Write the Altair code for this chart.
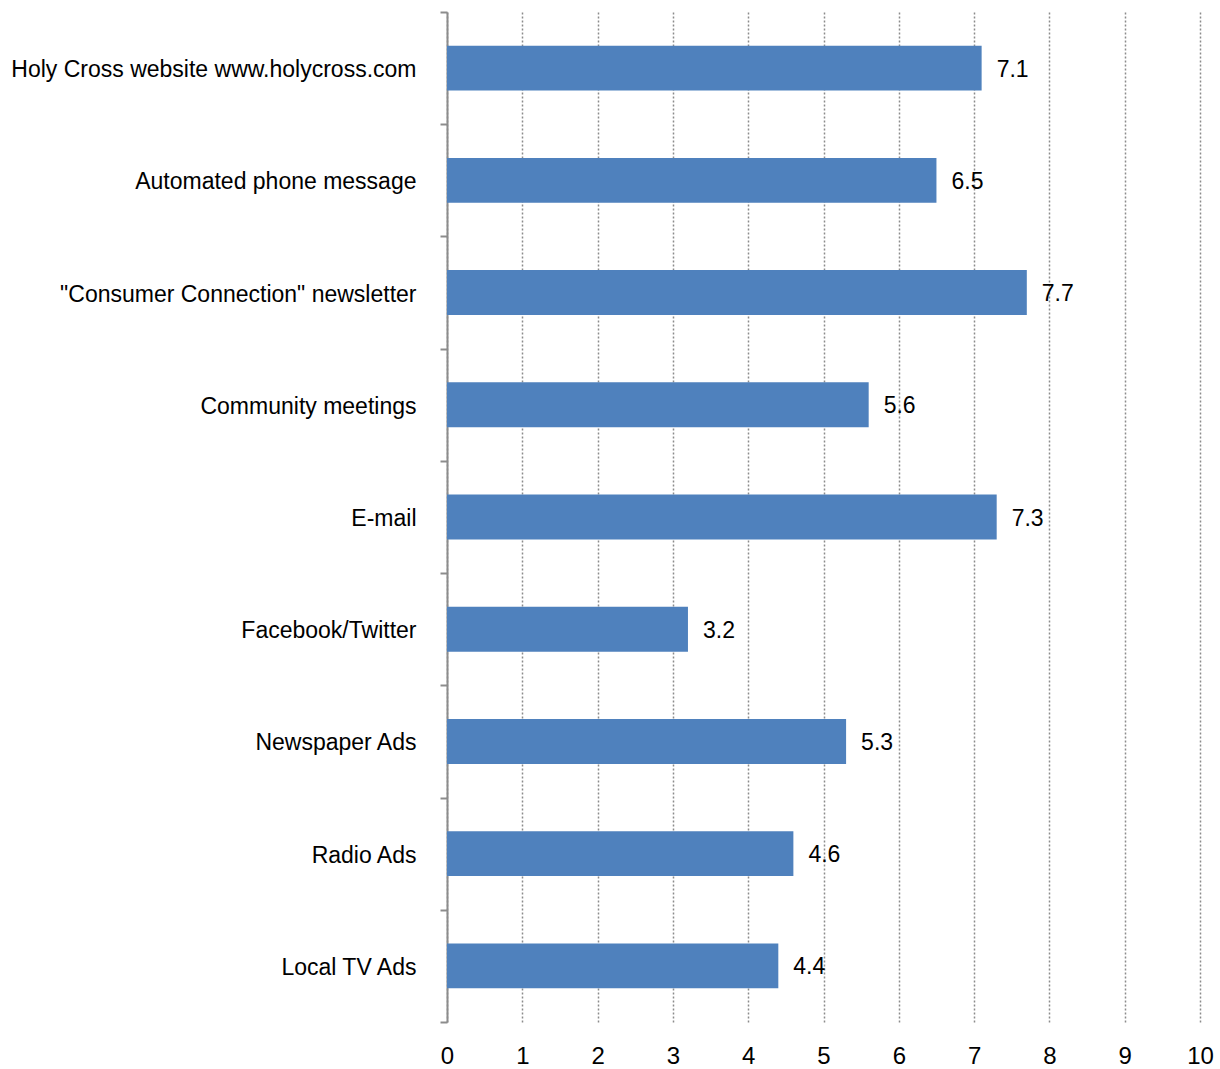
import altair as alt
import pandas as pd

categories = [
    "Holy Cross website www.holycross.com",
    "Automated phone message",
    "\"Consumer Connection\" newsletter",
    "Community meetings",
    "E-mail",
    "Facebook/Twitter",
    "Newspaper Ads",
    "Radio Ads",
    "Local TV Ads",
]
values = [7.1, 6.5, 7.7, 5.6, 7.3, 3.2, 5.3, 4.6, 4.4]
x_ticks = list(range(0, 11))

df = pd.DataFrame({"category": categories, "value": values})
df["label"] = df["value"].map(lambda v: f"{v:.1f}")

FONT = "Liberation Sans, Arial, sans-serif"

y_enc = alt.Y(
    "category:N",
    sort=categories,
    scale=alt.Scale(paddingInner=0, paddingOuter=0),
    axis=alt.Axis(
        title=None,
        tickBand="extent",
        domainColor="#8c8c8c",
        domainWidth=2,
        tickColor="#8c8c8c",
        tickWidth=2,
        tickSize=7,
        labelFont=FONT,
        labelFontSize=23,
        labelColor="#000000",
        labelPadding=24,
        labelOffset=1.5,
        labelLimit=0,
        grid=False,
    ),
)

x_enc = alt.X(
    "value:Q",
    scale=alt.Scale(domain=[0, 10], nice=False),
    axis=alt.Axis(
        title=None,
        values=x_ticks,
        format="d",
        domain=False,
        ticks=False,
        grid=True,
        gridColor="#8c8c8c",
        gridDash=[2, 2],
        gridWidth=1.5,
        labelFont=FONT,
        labelFontSize=24,
        labelColor="#000000",
        labelPadding=22,
        labelFlush=False,
    ),
)

bars = alt.Chart(df).mark_bar(color="#4F81BD", height={"band": 0.4}).encode(x=x_enc, y=y_enc)

texts = alt.Chart(df).mark_text(
    align="left", baseline="middle", dx=15, dy=1.5, font=FONT, fontSize=23, color="#000000"
).encode(x="value:Q", y=alt.Y("category:N", sort=categories, bandPosition=0.5), text="label:N")

chart = (
    alt.layer(bars, texts)
    .properties(
        width=753,
        height=1010,
        autosize=alt.AutoSizeParams(type="none"),
        padding={"left": 447, "top": 12, "right": 20, "bottom": 47},
        background="#ffffff",
    )
    .configure_view(stroke=None)
)

chart.save("out.html", embed_options={"renderer": "svg", "actions": False})
